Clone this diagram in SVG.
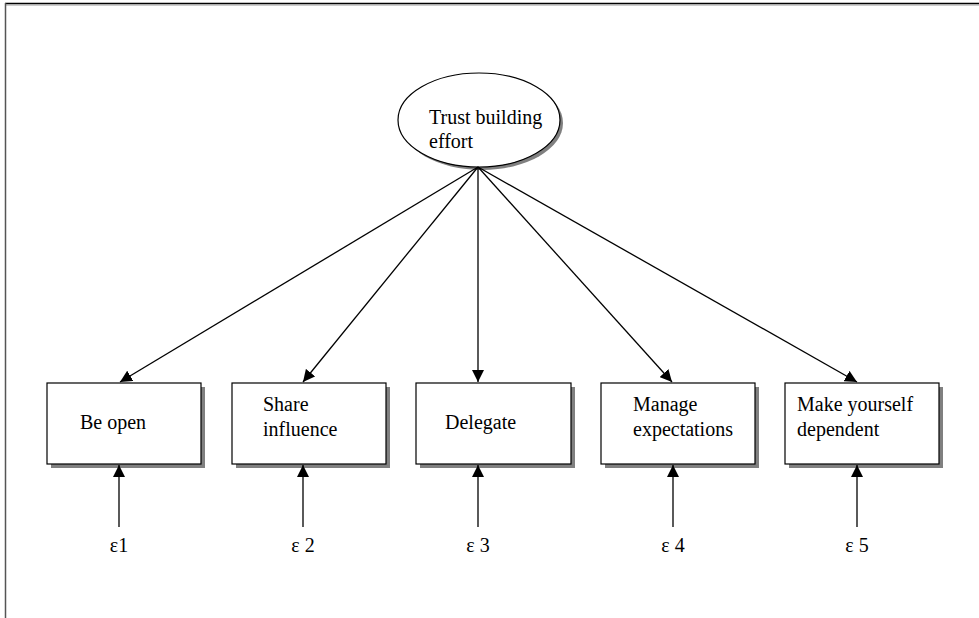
<svg xmlns="http://www.w3.org/2000/svg" width="979" height="618" viewBox="0 0 979 618">
<style>
  text { font-family: "Liberation Serif", "Times New Roman", serif; font-size: 20px; fill: #000; }
  .box { fill: #fff; stroke: #000; stroke-width: 1.2; }
  .shadow { fill: #808080; stroke: none; }
  .conn { stroke: #000; stroke-width: 1.3; fill: none; marker-end: url(#arr); }
</style>
<defs>
  <marker id="arr" markerWidth="12" markerHeight="12" viewBox="0 0 12 12" refX="12" refY="6" orient="auto" markerUnits="userSpaceOnUse">
    <path d="M0,0 L12,6 L0,12 Z" fill="#000"/>
  </marker>
</defs>
<rect width="979" height="618" fill="#fff"/>
<g id="frame">
  <line x1="5" y1="3.5" x2="979" y2="3.5" stroke="#000" stroke-width="1.5"/>
  <line x1="5" y1="5" x2="979" y2="5" stroke="#999" stroke-width="1"/>
  <line x1="5.5" y1="3" x2="5.5" y2="618" stroke="#555" stroke-width="1.5"/>
</g>
<g id="latent">
  <ellipse cx="482" cy="123" rx="81" ry="47" class="shadow"/>
  <ellipse cx="479" cy="120" rx="81" ry="47" class="box"/>
  <text x="429" y="124">Trust building</text>
  <text x="429" y="148">effort</text>
</g>
<g id="n1">
  <rect x="51" y="387" width="154" height="81" class="shadow"/>
  <rect x="47" y="383" width="154" height="81" class="box"/>
  <text x="80" y="429">Be open</text>
</g>
<g id="n2">
  <rect x="236" y="387" width="154" height="81" class="shadow"/>
  <rect x="232" y="383" width="154" height="81" class="box"/>
  <text x="263" y="411">Share</text>
  <text x="263" y="436">influence</text>
</g>
<g id="n3">
  <rect x="420" y="387" width="155" height="81" class="shadow"/>
  <rect x="416" y="383" width="155" height="81" class="box"/>
  <text x="445" y="429">Delegate</text>
</g>
<g id="n4">
  <rect x="605" y="387" width="154" height="81" class="shadow"/>
  <rect x="601" y="383" width="154" height="81" class="box"/>
  <text x="633" y="411">Manage</text>
  <text x="633" y="436">expectations</text>
</g>
<g id="n5">
  <rect x="789" y="387" width="154" height="81" class="shadow"/>
  <rect x="785" y="383" width="154" height="81" class="box"/>
  <text x="797" y="411">Make yourself</text>
  <text x="797" y="436">dependent</text>
</g>
<g id="e1"><text x="119" y="552" text-anchor="middle">ε1</text></g>
<g id="e2"><text x="303" y="552" text-anchor="middle">ε 2</text></g>
<g id="e3"><text x="478" y="552" text-anchor="middle">ε 3</text></g>
<g id="e4"><text x="673" y="552" text-anchor="middle">ε 4</text></g>
<g id="e5"><text x="857" y="552" text-anchor="middle">ε 5</text></g>
<g id="connectors">
  <line x1="478" y1="167" x2="120" y2="382" class="conn"/>
  <line x1="478" y1="167" x2="303" y2="382" class="conn"/>
  <line x1="478" y1="167" x2="478" y2="382" class="conn"/>
  <line x1="478" y1="167" x2="672" y2="382" class="conn" stroke-width="1.6"/>
  <line x1="478" y1="167" x2="857" y2="382" class="conn"/>
  <line x1="119" y1="527" x2="119" y2="465" class="conn"/>
  <line x1="303" y1="527" x2="303" y2="465" class="conn"/>
  <line x1="478" y1="527" x2="478" y2="465" class="conn"/>
  <line x1="673" y1="527" x2="673" y2="465" class="conn"/>
  <line x1="857" y1="527" x2="857" y2="465" class="conn"/>
</g>
</svg>
